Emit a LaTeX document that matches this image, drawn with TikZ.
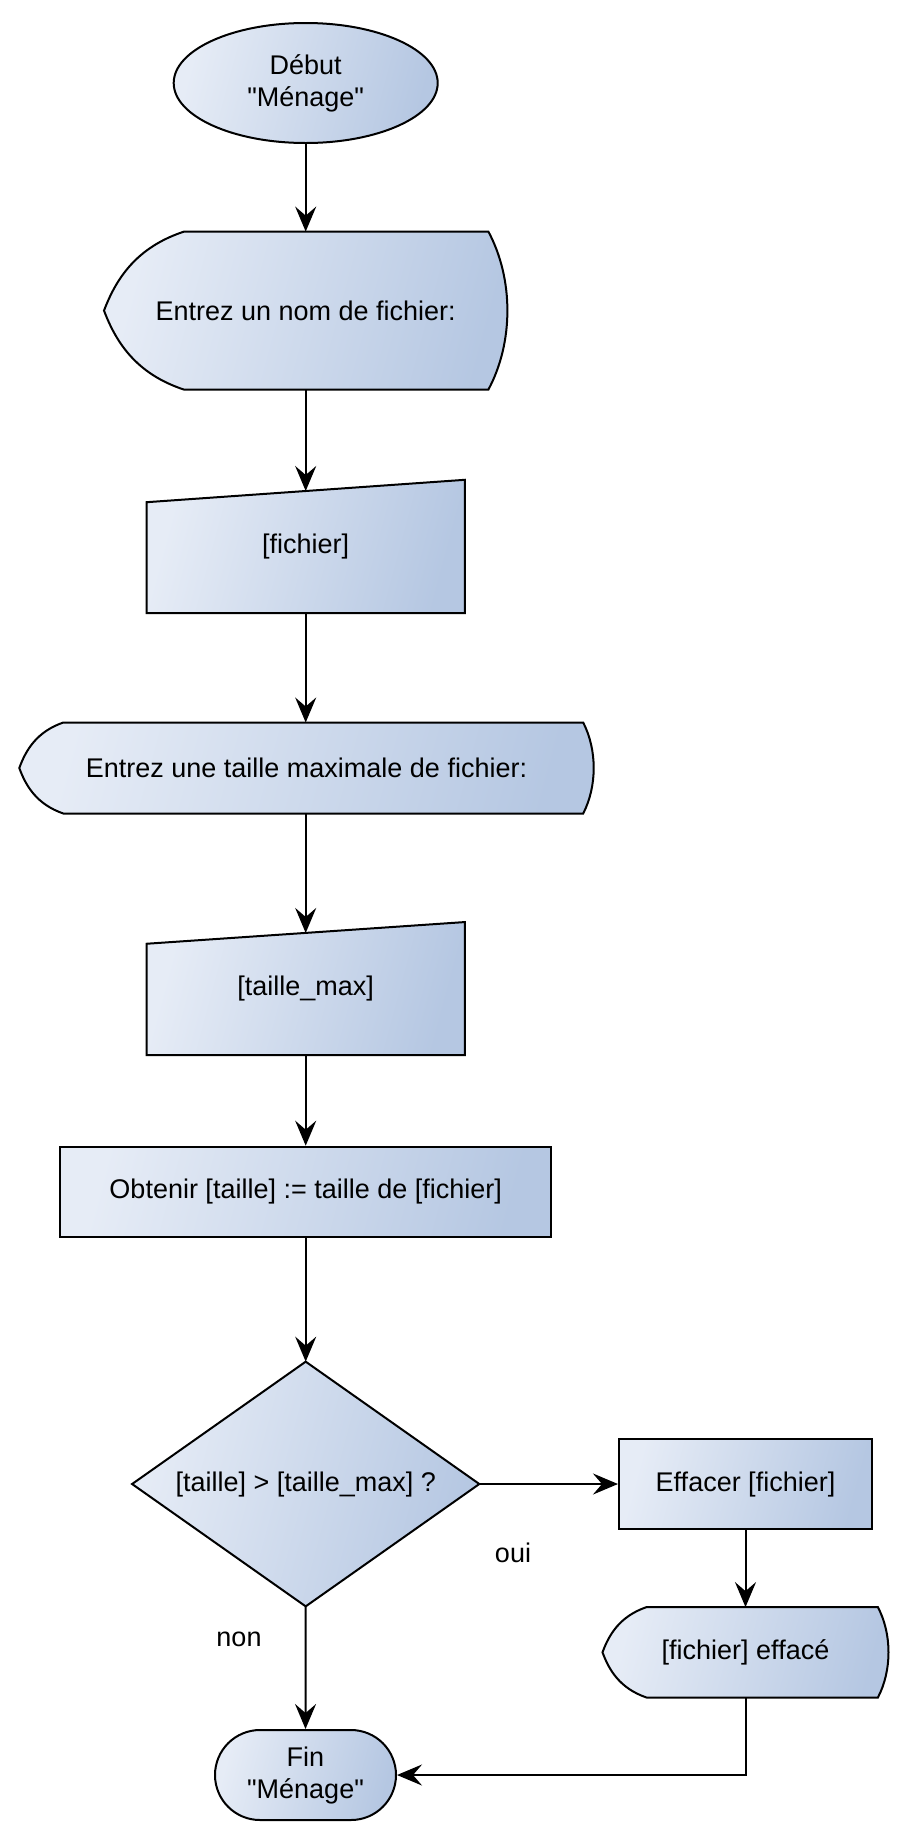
\documentclass[tikz,border=0pt]{standalone}
\usepackage{fontspec}
\setmainfont{Liberation Sans}
\usetikzlibrary{arrows.meta,calc,backgrounds,shapes.geometric}

\definecolor{gradleft}{HTML}{E6ECF6}
\definecolor{gradright}{HTML}{B5C7E2}

\tikzset{
	txt/.style={font=\fontsize{27}{32}\selectfont, align=center, inner sep=0pt},
	fillshape/.style={left color=gradleft, right color=gradright, shading angle=75, draw=black, line width=2pt},
	zone/.style 2 args={txt, rectangle, minimum width=#1, minimum height=#2},
	arr/.style={-{Stealth[length=25pt,width=21pt,inset=9pt]}, line width=2pt},
}

% display shape: node, left inset, right inset
\newcommand{\affichage}[3]{%
	\draw[fillshape] ($(#1.north west)+(#2,0)$) -- ($(#1.north east)+(-#3,0)$)
		.. controls ($(#1.north east)!0.3!(#1.south east)+(#3/3,0)$) and ($(#1.north east)!0.7!(#1.south east)+(#3/3,0)$) .. ($(#1.south east)+(-#3,0)$)
		-- ($(#1.south west)+(#2,0)$)
		.. controls ($(#1.north west)!0.9!(#1.south west)+(0.4*#2,0)$) and ($(#1.north west)!0.7!(#1.south west)+(0.15*#2,0)$) .. (#1.west)
		.. controls ($(#1.north west)!0.3!(#1.south west)+(0.15*#2,0)$) and ($(#1.north west)!0.1!(#1.south west)+(0.4*#2,0)$) .. cycle;}

\begin{document}
\begin{tikzpicture}[x=1pt,y=-1pt]
	\useasboundingbox (0,0) rectangle (915,1845);

	% The main column
	\node[txt, ellipse, fillshape, minimum width=264pt, minimum height=120pt] (debut) at (305.7,83) {Début\\\textquotedbl Ménage\textquotedbl};
	\node[zone={403pt}{157.6pt}] (nomfich) at (305.7,310.6) {Entrez un nom de fichier:};
	\node[zone={318pt}{133pt}] (fichier) at (305.7,546.5) {[fichier]};
	\node[zone={574pt}{90.6pt}] (taillefich) at (306.5,768) {Entrez une taille maximale de fichier:};
	\node[zone={318pt}{132.7pt}] (taillemax) at (305.7,988.6) {[taille\_max]};
	\node[txt, fillshape, minimum width=491.4pt, minimum height=90.6pt] (obtenir) at (305.7,1192) {Obtenir [taille] := taille de [fichier]};
	\node[zone={346.8pt}{244.3pt}] (test) at (305.7,1484) {[taille] > [taille\_max] ?};
	\node[txt, fillshape, rounded corners=45pt, minimum width=181pt, minimum height=90pt] (fin) at (305.5,1775) {Fin\\\textquotedbl Ménage\textquotedbl};

	% The branch on the right
	\node[txt, fillshape, minimum width=253pt, minimum height=90pt] (effacer) at (745.5,1484) {Effacer [fichier]};
	\node[zone={285.6pt}{90pt}] (efface) at (745.5,1652.3) {[fichier] effacé};

	\node[txt] (oui) at (513,1553) {oui};
	\node[txt] (non) at (239,1639) {non};

	% The outlines, behind the texts
	\begin{scope}[on background layer]
	\affichage{nomfich}{80}{19}
	\affichage{taillefich}{44}{10.5}
	\affichage{efface}{44}{10.6}
	\draw[fillshape] (fichier.south west) -- (fichier.south east) -- (fichier.north east) -- ($(fichier.north west)+(0,22.4)$) -- cycle;
	\draw[fillshape] (taillemax.south west) -- (taillemax.south east) -- (taillemax.north east) -- ($(taillemax.north west)+(0,21.7)$) -- cycle;
	\draw[fillshape] (test.north) -- (test.east) -- (test.south) -- (test.west) -- cycle;
	\end{scope}

	\coordinate (fichierhaut) at ($(fichier.north)+(0,11.2)$);
	\coordinate (taillemaxhaut) at ($(taillemax.north)+(0,10.9)$);

	% The arrows
	\draw[arr] (debut) -- (nomfich);
	\draw[arr] (nomfich) -- (fichierhaut);
	\draw[arr] (fichier) -- (fichier |- taillefich.north);
	\draw[arr] (taillefich.south -| fichier) -- (taillemaxhaut);
	\draw[arr] (taillemax) -- (obtenir);
	\draw[arr] (obtenir) -- (test);
	\draw[arr] (test.east) -- (effacer.west);
	\draw[arr] (effacer) -- (efface);
	\draw[arr] (test.south) -- (fin.north);
	\draw[arr] (efface.south) |- (fin.east);
\end{tikzpicture}
\end{document}
